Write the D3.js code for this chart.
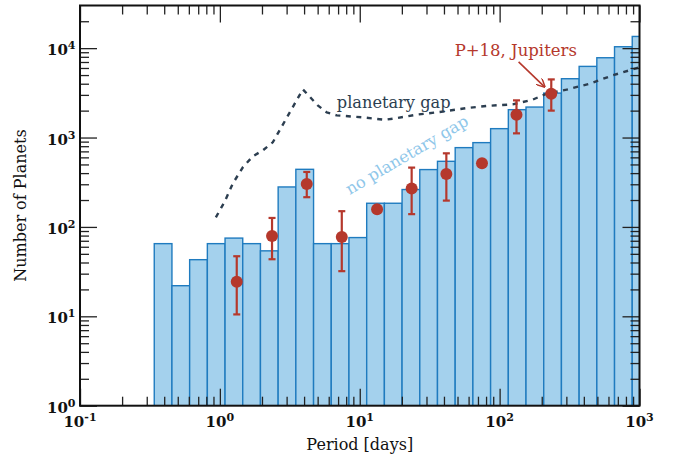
<!DOCTYPE html>
<html>
<head>
<meta charset="utf-8">
<script src="https://cdn.jsdelivr.net/npm/d3@7"></script>
<style>
  html, body { margin: 0; background: #fff; }
  svg text { font-family: "DejaVu Serif", "Liberation Serif", serif; }
</style>
</head>
<body>
<div id="chart"></div>
<script>
// ── Données ───────────────────────────────────────────────────────
// histogramme : bords des classes (jours) et nombre de planètes
const binEdges = [0.3395, 0.4543, 0.608, 0.8137, 1.089, 1.457, 1.95, 2.61, 3.493, 4.675,
  6.256, 8.373, 11.21, 15.0, 20.07, 26.87, 35.95, 48.12, 64.41, 86.2, 115.4, 154.4,
  206.7, 276.6, 370.2, 495.4, 663.0, 887.3, 1187.6];
const planetCounts = [65, 22, 43, 65, 75, 65, 54, 280, 441, 65, 65, 76, 184, 184, 262,
  438, 542, 771, 877, 1257, 2050, 2193, 3142, 4550, 6250, 7810, 10370, 13520];

// P+18, Jupiters (points + barres d'erreur, null = sans barre)
const jupPeriod = [1.32, 2.36, 4.18, 7.44, 13.3, 23.5, 41.6, 74.8, 132, 234];
const jupCount  = [24.3, 79, 302, 77, 158, 269, 391, 515, 1800, 3090];
const jupLow    = [10.5, 43.5, 215, 32, null, 139, 197, null, 1114, 2000];
const jupHigh   = [47, 126, 412, 150, null, 461, 666, null, 2605, 4470];

// courbe "planetary gap" (tirets)
const gapPeriod = [0.936, 1.086, 1.239, 1.46, 1.72, 2.03, 2.39, 3.16, 3.92, 5.01, 5.81,
  6.85, 10.5, 15.1, 18.4, 25.5, 37.3, 58.1, 80.8, 124, 172, 217, 301, 440, 641, 1000];
const gapCount  = [128, 194, 307, 465, 617, 719, 884, 1910, 3460, 2290, 1910, 1770,
  1683, 1577, 1651, 1803, 1929, 2136, 2260, 2350, 2651, 3097, 3430, 4000, 4955, 6100];

// axes
const xMajor = [0.1, 1, 10, 100, 1000];
const xExp   = ['-1', '0', '1', '2', '3'];
const yMajor = [1, 10, 100, 1000, 10000];
const yExp   = ['0', '1', '2', '3', '4'];

const COLORS = {
  barFill:   '#a4d1ed',
  barStroke: '#1f7bbf',
  red:       '#b5382c',
  gap:       '#2c3e50',
  noGap:     '#8fc7ea',
};

// ── Mise en page ──────────────────────────────────────────────────
const W = 674, H = 457;
const X0 = 80, X1 = 639.5, Y0 = 405.7, Y1 = 5.5;

const x = d3.scaleLog().domain([0.1, 1000]).range([X0, X1]);
const y = d3.scaleLog().domain([1, 3e4]).range([Y0, Y1]);

const svg = d3.select('#chart').append('svg')
  .attr('width', W).attr('height', H)
  .style('background', '#fff');

svg.append('clipPath').attr('id', 'plot-clip')
  .append('rect').attr('x', X0).attr('y', Y1).attr('width', X1 - X0).attr('height', Y0 - Y1);

const plot = svg.append('g').attr('clip-path', 'url(#plot-clip)');

// ── Histogramme ───────────────────────────────────────────────────
const bins = planetCounts.map((n, i) => ({ lo: binEdges[i], hi: binEdges[i + 1], n }));

plot.selectAll('.bar')
  .data(bins).join('rect')
  .attr('class', 'bar')
  .attr('x', d => x(d.lo))
  .attr('y', d => y(d.n))
  .attr('width', d => x(d.hi) - x(d.lo))
  .attr('height', d => y(1) - y(d.n))
  .attr('fill', COLORS.barFill)
  .attr('stroke', COLORS.barStroke)
  .attr('stroke-width', 1.4);

// ── Courbe planetary gap ──────────────────────────────────────────
const gapData = gapPeriod.map((p, i) => [p, gapCount[i]]);
plot.append('path')
  .datum(gapData)
  .attr('fill', 'none')
  .attr('stroke', COLORS.gap)
  .attr('stroke-width', 2.4)
  .attr('stroke-dasharray', '5,5.5')
  .attr('d', d3.line().x(d => x(d[0])).y(d => y(d[1])));

// ── Points P+18 ───────────────────────────────────────────────────
const jup = jupPeriod.map((p, i) => ({ p, n: jupCount[i], lo: jupLow[i], hi: jupHigh[i] }));
const errs = jup.filter(d => d.lo != null);
const eg = svg.append('g').attr('stroke', COLORS.red).attr('stroke-width', 2.2);
eg.selectAll('.err').data(errs).join('line')
  .attr('x1', d => x(d.p)).attr('x2', d => x(d.p))
  .attr('y1', d => y(d.lo)).attr('y2', d => y(d.hi));
['lo', 'hi'].forEach(k => {
  eg.selectAll('.cap-' + k).data(errs).join('line')
    .attr('x1', d => x(d.p) - 3.5).attr('x2', d => x(d.p) + 3.5)
    .attr('y1', d => y(d[k])).attr('y2', d => y(d[k]));
});
svg.selectAll('.jup').data(jup).join('circle')
  .attr('class', 'jup')
  .attr('cx', d => x(d.p)).attr('cy', d => y(d.n))
  .attr('r', 6)
  .attr('fill', COLORS.red);

// ── Annotations ───────────────────────────────────────────────────
svg.append('text')
  .attr('x', x(6.85)).attr('y', y(2148))
  .attr('font-size', 16.2).attr('fill', COLORS.gap)
  .text('planetary gap');

svg.append('text')
  .attr('transform', `translate(${x(8.48)},${y(228)}) rotate(-30.5)`)
  .attr('font-size', 16.2).attr('fill', COLORS.noGap)
  .text('no planetary gap');

svg.append('text')
  .attr('x', x(47.7)).attr('y', y(8200))
  .attr('font-size', 16.5).attr('fill', COLORS.red)
  .text('P+18, Jupiters');

svg.append('defs').append('marker')
  .attr('id', 'arrow').attr('viewBox', '0 0 10 10')
  .attr('refX', 9).attr('refY', 5)
  .attr('markerWidth', 9).attr('markerHeight', 9)
  .attr('markerUnits', 'userSpaceOnUse')
  .attr('orient', 'auto')
  .append('path').attr('d', 'M0,0 L10,5 L0,10')
  .attr('fill', 'none').attr('stroke', COLORS.red).attr('stroke-width', 1.6);

svg.append('line')
  .attr('x1', x(136.7)).attr('y1', y(7030))
  .attr('x2', x(209.6)).attr('y2', y(3690))
  .attr('stroke', COLORS.red).attr('stroke-width', 1.6)
  .attr('marker-end', 'url(#arrow)');

// ── Axes (graduations vers l'intérieur, 4 côtés) ──────────────────
const xMinor = x.ticks().filter(v => !xMajor.includes(v));
const yMinor = y.ticks().filter(v => !yMajor.includes(v) && v < 3e4);

function ticks(axisFn, scale, values, size, tx, ty) {
  svg.append('g').attr('transform', `translate(${tx},${ty})`)
    .call(axisFn(scale).tickValues(values).tickSize(-size).tickFormat(''))
    .call(g => g.select('.domain').remove())
    .call(g => g.selectAll('line').attr('stroke', '#222').attr('stroke-width', 1.3));
}
ticks(d3.axisBottom, x, xMajor, 17, 0, Y0);
ticks(d3.axisBottom, x, xMinor, 9, 0, Y0);
ticks(d3.axisTop, x, xMajor, 17, 0, Y1);
ticks(d3.axisTop, x, xMinor, 9, 0, Y1);
ticks(d3.axisLeft, y, yMajor, 17, X0, 0);
ticks(d3.axisLeft, y, yMinor, 9, X0, 0);
ticks(d3.axisRight, y, yMajor, 17, X1, 0);
ticks(d3.axisRight, y, yMinor, 9, X1, 0);

svg.append('rect')
  .attr('x', X0).attr('y', Y1).attr('width', X1 - X0).attr('height', Y0 - Y1)
  .attr('fill', 'none').attr('stroke', '#111').attr('stroke-width', 2);

// étiquettes 10^n
function powLabel(sel) {
  sel.attr('font-size', 15).attr('font-weight', 'bold').attr('fill', '#111');
  sel.append('tspan').text('10');
  sel.append('tspan').attr('dy', -6).attr('font-size', 11).text(d => d.e);
}
svg.selectAll('.xlab')
  .data(xMajor.map((v, i) => ({ v, e: xExp[i] }))).join('text')
  .attr('class', 'xlab')
  .attr('x', d => x(d.v)).attr('y', Y0 + 21)
  .attr('text-anchor', 'middle')
  .call(powLabel);

svg.selectAll('.ylab')
  .data(yMajor.map((v, i) => ({ v, e: yExp[i] }))).join('text')
  .attr('class', 'ylab')
  .attr('x', X0 - 4.5).attr('y', d => y(d.v) + 7)
  .attr('text-anchor', 'end')
  .call(powLabel);

// titres d'axes
svg.append('text')
  .attr('x', (X0 + X1) / 2).attr('y', 450)
  .attr('text-anchor', 'middle').attr('font-size', 16).attr('fill', '#111')
  .text('Period [days]');

svg.append('text')
  .attr('transform', `translate(26,${(Y0 + Y1) / 2}) rotate(-90)`)
  .attr('text-anchor', 'middle').attr('font-size', 16).attr('fill', '#111')
  .text('Number of Planets');
</script>
</body>
</html>
